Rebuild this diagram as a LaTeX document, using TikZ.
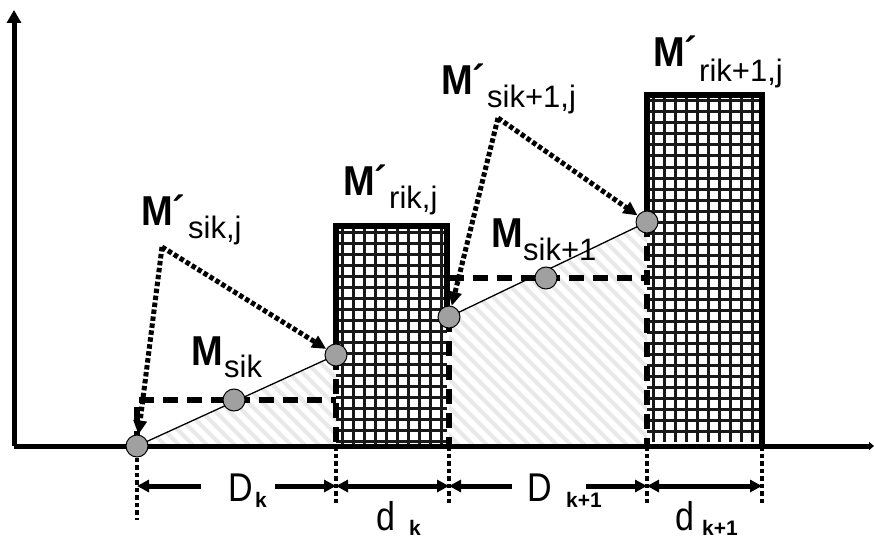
\documentclass[tikz,border=0pt]{standalone}
\usepackage{fontspec}
\usepackage{graphicx}
\setmainfont{Liberation Sans}
\usetikzlibrary{arrows.meta}
\definecolor{ptgray}{RGB}{160,160,160}
\definecolor{hatchgray}{RGB}{233,233,233}
\definecolor{gridcol}{RGB}{25,25,25}
\newcommand\vstretch[2]{\scalebox{1}[#1]{#2}}
\begin{document}
\begin{tikzpicture}[x=1pt,y=-1pt,
  dotpt/.style={circle,draw=black,line width=1pt,fill=ptgray,minimum size=22pt,inner sep=0pt},
  hatchline/.style={draw=hatchgray,line width=4pt},
  gridline/.style={draw=gridcol,line width=3pt},
  barline/.style={line width=5.5pt,line cap=rect},
  dashline/.style={line width=5.5pt,dash pattern=on 15pt off 9pt},
  dotline/.style={line width=4.5pt,dash pattern=on 4.5pt off 3pt},
  dotarrow/.style={line width=5pt,dash pattern=on 4.5pt off 2.5pt,-{Triangle[length=14pt,width=13pt]}},
  dimarrow/.style={line width=5pt,-{Triangle[length=12pt,width=12pt]}},
  dimboth/.style={line width=5pt,{Triangle[length=12pt,width=12pt]}-{Triangle[length=12pt,width=12pt]}},
  axis/.style={line width=5pt},
  Mfont/.style={font=\fontsize{38}{38}\selectfont\bfseries,anchor=base west,inner sep=0pt},
  Sfont/.style={font=\fontsize{31}{31}\selectfont,anchor=base west,inner sep=0pt},
  Dfont/.style={font=\fontsize{34}{34}\selectfont,anchor=base west,inner sep=0pt},
  Kfont/.style={font=\fontsize{21}{21}\selectfont\bfseries,anchor=base west,inner sep=0pt}]
\useasboundingbox (0,0) rectangle (874,540);

% hatched areas
\begin{scope}
\clip (137,446) -- (336,355) -- (336,446) -- cycle;
\foreach \i in {-560,-546,...,900} \draw[hatchline] (\i,0) -- ++(560,560);
\end{scope}
\begin{scope}
\clip (449,317) -- (647,222) -- (647,446) -- (449,446) -- cycle;
\foreach \i in {-560,-546,...,900} \draw[hatchline] (\i,0) -- ++(560,560);
\end{scope}

% grid-filled bars
\begin{scope}
\clip (336,226) rectangle (447,446);
\foreach \x in {342,353,...,442} \draw[gridline] (\x,226) -- (\x,446);
\foreach \y in {232,243,...,441} \draw[gridline] (336,\y) -- (447,\y);
\end{scope}
\begin{scope}
\clip (647,95) rectangle (762,441);
\foreach \x in {653,664,...,762} \draw[gridline] (\x,95) -- (\x,446);
\foreach \y in {101,112,...,440} \draw[gridline] (647,\y) -- (762,\y);
\end{scope}

% corner coordinates
\coordinate (b1bl) at (336,446);
\coordinate (b1tl) at (336,226);
\coordinate (b1tr) at (447,226);
\coordinate (b1rm) at (447,306);
\coordinate (b1br) at (449,446);
\coordinate (b2bl) at (647,446);
\coordinate (b2tl) at (647,95);
\coordinate (b2tr) at (762,95);
\coordinate (b2br) at (762,446);
\coordinate (h1l) at (137,400);
\coordinate (h1r) at (336,400);
\coordinate (h2l) at (449,278);
\coordinate (h2r) at (647,278);
\coordinate (o) at (14,446);
\coordinate (ytop) at (14,10);
\coordinate (xend) at (874,446);
\coordinate (a1) at (162,247);
\coordinate (a2) at (498,118);
\coordinate (c0) at (137,446);
\coordinate (c2) at (336,355);
\coordinate (c3) at (449,317);
\coordinate (c5) at (647,222);

% axes
\draw[axis,-{Triangle[length=13pt,width=14pt]}] (o) -- (ytop);
\draw[axis,-{Triangle[length=5pt,width=8pt]}] (o) -- (xend);

% bar outlines
\draw[barline] (c2) -- (b1tl) -- (b1tr) -- (b1rm);
\draw[barline] (c5) -- (b2tl) -- (b2tr) -- (b2br);

% dashed lines
\draw[dashline] (c0) -- (h1l) -- (h1r);
\draw[dashline] (c2) -- (b1bl);
\draw[dashline] (c3) -- (b1br);
\draw[dashline] (h2l) -- (h2r);
\draw[dashline] (c5) -- (b2bl);

% sloped lines
\draw[line width=1.3pt] (c0) -- (c2);
\draw[line width=1.3pt] (c3) -- (c5);

% points
\node[dotpt] (p0) at (c0) {};
\node[dotpt] (p1) at (234,400) {};
\node[dotpt] (p2) at (c2) {};
\node[dotpt] (p3) at (c3) {};
\node[dotpt] (p4) at (546,278) {};
\node[dotpt] (p5) at (c5) {};

% dotted arrows
\draw[dotarrow] (a1) -- (p0);
\draw[dotarrow] (a1) -- (p2);
\draw[dotarrow] (a2) -- (p3);
\draw[dotarrow] (a2) -- (p5);

% dotted verticals below axis
\coordinate (v0) at (137,520);
\coordinate (v1) at (336,506);
\coordinate (v2) at (449,506);
\coordinate (v3) at (647,506);
\coordinate (v4) at (762,506);
\draw[dotline] (p0.south) -- (v0);
\draw[dotline] (b1bl) -- (v1);
\draw[dotline] (b1br) -- (v2);
\draw[dotline] (b2bl) -- (v3);
\draw[dotline] (b2br) -- (v4);

% dimension arrows
\coordinate (d0) at (137,486);
\coordinate (d1) at (336,486);
\coordinate (d2) at (449,486);
\coordinate (d3) at (647,486);
\coordinate (d4) at (762,486);
\coordinate (s1) at (201,486);
\coordinate (s2) at (275,486);
\coordinate (s3) at (512,486);
\coordinate (s4) at (586,486);
\draw[dimarrow] (s1) -- (d0);
\draw[dimarrow] (s2) -- (d1);
\draw[dimboth] (d1) -- (d2);
\draw[dimarrow] (s3) -- (d2);
\draw[dimarrow] (s4) -- (d3);
\draw[dimboth] (d3) -- (d4);

% dimension labels
\node[Dfont] (lD1) at (228,501) {\vstretch{1.18}{D}};
\node[Kfont] (lD1s) at (255,507) {k};
\node[Dfont] (lD2) at (527,501) {\vstretch{1.18}{D}};
\node[Kfont] (lD2s) at (566,507) {k+1};
\node[Dfont] (ld1) at (376,530) {\vstretch{1.18}{d}};
\node[Kfont] (ld1s) at (409,535) {k};
\node[Dfont] (ld2) at (675,530) {\vstretch{1.18}{d}};
\node[Kfont] (ld2s) at (702,535) {k+1};

% M labels
\node[Mfont] (m1) at (141,225) {\vstretch{1.1}{M´}};
\node[Sfont] (m1s) at (188,238) {sik,j};
\node[Mfont] (m2) at (343,195) {\vstretch{1.1}{M´}};
\node[Sfont] (m2s) at (389,208) {rik,j};
\node[Mfont] (m3) at (441,95) {\vstretch{1.1}{M´}};
\node[Sfont] (m3s) at (487,108) {sik+1,j};
\node[Mfont] (m4) at (653,67) {\vstretch{1.1}{M´}};
\node[Sfont] (m4s) at (699,82) {rik+1,j};
\node[Mfont] (m5) at (191,365) {\vstretch{1.1}{M}};
\node[Sfont] (m5s) at (224,377) {sik};
\node[Mfont] (m6) at (491,247) {\vstretch{1.1}{M}};
\node[Sfont] (m6s) at (523,260) {sik+1};
\end{tikzpicture}
\end{document}
